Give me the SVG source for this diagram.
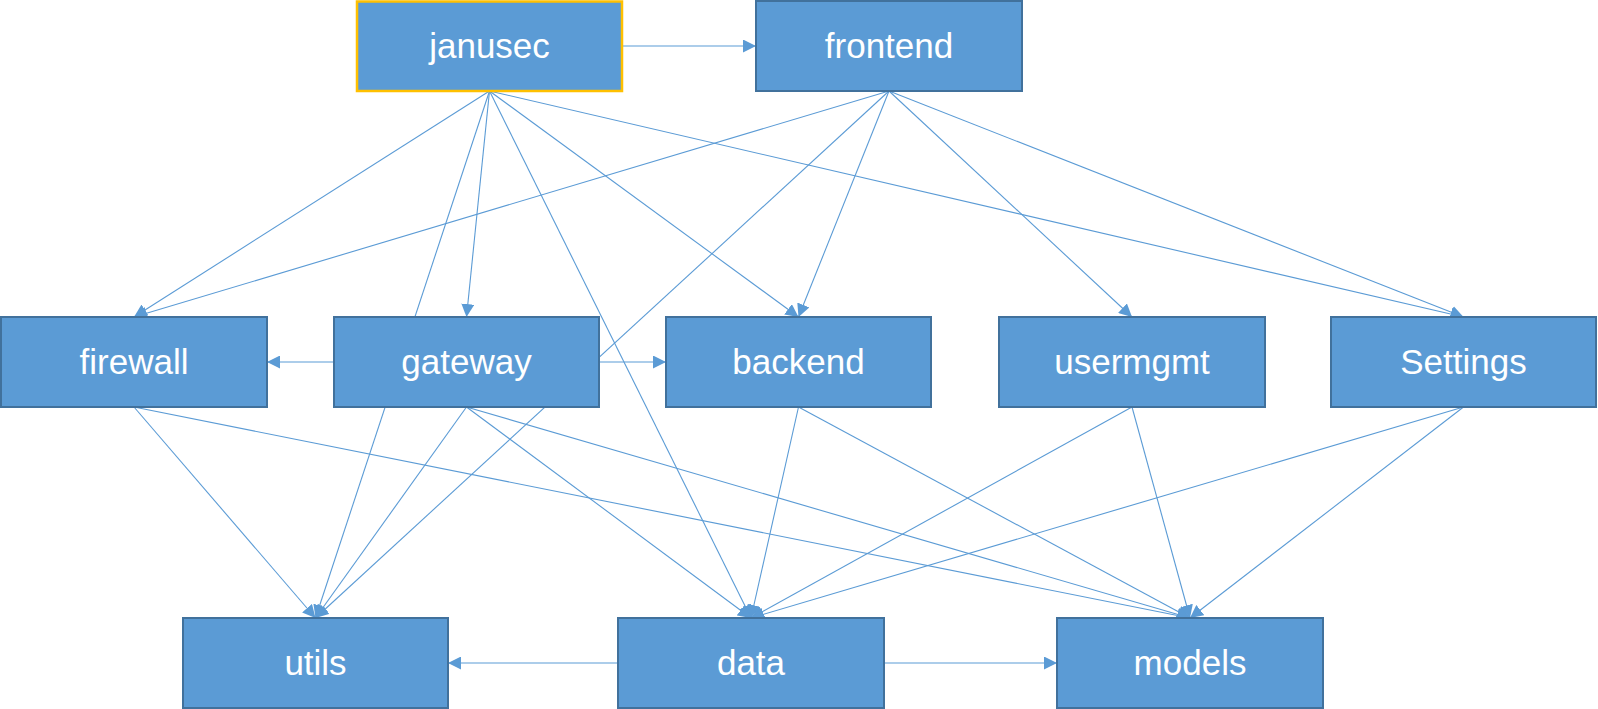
<svg xmlns="http://www.w3.org/2000/svg" width="1598" height="709" viewBox="0 0 1598 709">
<defs>
<marker id="arr" markerUnits="userSpaceOnUse" markerWidth="14" markerHeight="13" refX="13" refY="6.5" orient="auto">
<path d="M0,0 L13,6.5 L0,13 z" fill="#5B9BD5"/>
</marker>
<style>
.node rect{fill:#5B9BD5;stroke:#41719C;stroke-width:2}
#janusec rect{stroke:#FFC000;stroke-width:2.5}
.node text{fill:#FFFFFF;font-family:"Liberation Sans",Arial,sans-serif;font-size:35px;text-anchor:middle}
.edges line{stroke:#5B9BD5;stroke-width:1.1;marker-end:url(#arr)}
</style>
</defs>
<rect width="1598" height="709" fill="#FFFFFF"/>
<g id="connectors" class="edges">
<line x1="622" y1="46" x2="756" y2="46"/>
<line x1="489.5" y1="91" x2="134" y2="317"/>
<line x1="489.5" y1="91" x2="466.5" y2="317"/>
<line x1="489.5" y1="91" x2="798.5" y2="317"/>
<line x1="489.5" y1="91" x2="1463.5" y2="317"/>
<line x1="489.5" y1="91" x2="315.5" y2="618"/>
<line x1="489.5" y1="91" x2="751" y2="618"/>
<line x1="889" y1="91" x2="134" y2="317"/>
<line x1="889" y1="91" x2="315.5" y2="618"/>
<line x1="889" y1="91" x2="798.5" y2="317"/>
<line x1="889" y1="91" x2="1132" y2="317"/>
<line x1="889" y1="91" x2="1463.5" y2="317"/>
<line x1="334" y1="362" x2="267" y2="362"/>
<line x1="599" y1="362" x2="666" y2="362"/>
<line x1="134" y1="407" x2="315.5" y2="618"/>
<line x1="134" y1="407" x2="1190" y2="618"/>
<line x1="466.5" y1="407" x2="315.5" y2="618"/>
<line x1="466.5" y1="407" x2="751" y2="618"/>
<line x1="466.5" y1="407" x2="1190" y2="618"/>
<line x1="798.5" y1="407" x2="751" y2="618"/>
<line x1="798.5" y1="407" x2="1190" y2="618"/>
<line x1="1132" y1="407" x2="751" y2="618"/>
<line x1="1132" y1="407" x2="1190" y2="618"/>
<line x1="1463.5" y1="407" x2="751" y2="618"/>
<line x1="1463.5" y1="407" x2="1190" y2="618"/>
<line x1="618" y1="663" x2="448" y2="663"/>
<line x1="884" y1="663" x2="1057" y2="663"/>
</g>
<g id="janusec" class="node"><rect x="357" y="1.5" width="265" height="89.5"/><text x="489.5" y="58">janusec</text></g>
<g id="frontend" class="node"><rect x="756" y="1" width="266" height="90"/><text x="889" y="58">frontend</text></g>
<g id="firewall" class="node"><rect x="1" y="317" width="266" height="90"/><text x="134" y="374">firewall</text></g>
<g id="gateway" class="node"><rect x="334" y="317" width="265" height="90"/><text x="466.5" y="374">gateway</text></g>
<g id="backend" class="node"><rect x="666" y="317" width="265" height="90"/><text x="798.5" y="374">backend</text></g>
<g id="usermgmt" class="node"><rect x="999" y="317" width="266" height="90"/><text x="1132" y="374">usermgmt</text></g>
<g id="settings" class="node"><rect x="1331" y="317" width="265" height="90"/><text x="1463.5" y="374">Settings</text></g>
<g id="utils" class="node"><rect x="183" y="618" width="265" height="90"/><text x="315.5" y="675">utils</text></g>
<g id="data" class="node"><rect x="618" y="618" width="266" height="90"/><text x="751" y="675">data</text></g>
<g id="models" class="node"><rect x="1057" y="618" width="266" height="90"/><text x="1190" y="675">models</text></g>
</svg>
